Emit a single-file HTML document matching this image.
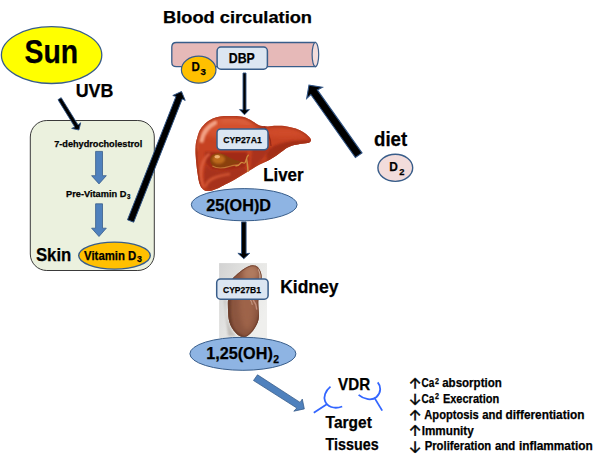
<!DOCTYPE html>
<html lang="en">
<head>
<meta charset="utf-8">
<title>Vitamin D metabolism</title>
<style>
html,body{margin:0;padding:0;background:#fff;}
body{width:610px;height:467px;overflow:hidden;}
svg{display:block;}
text{font-family:"Liberation Sans",sans-serif;font-weight:bold;fill:#000;stroke:#000;stroke-width:0.25px;}
.ar{font-family:"DejaVu Sans Light","DejaVu Sans",sans-serif;font-weight:200;font-size:24.7px;stroke-width:0.5px;}
</style>
</head>
<body>
<svg width="610" height="467" viewBox="0 0 610 467">
<defs>
  <radialGradient id="liverG" cx="0.38" cy="0.35" r="0.75">
    <stop offset="0" stop-color="#d9502f"/>
    <stop offset="0.55" stop-color="#c43a22"/>
    <stop offset="1" stop-color="#9c2a18"/>
  </radialGradient>
  <linearGradient id="kidBg" x1="0" y1="0" x2="1" y2="0.6">
    <stop offset="0" stop-color="#d2d2d2"/>
    <stop offset="0.5" stop-color="#e4e4e2"/>
    <stop offset="1" stop-color="#efefed"/>
  </linearGradient>
  <radialGradient id="kidG" cx="0.55" cy="0.35" r="0.8">
    <stop offset="0" stop-color="#a36a4e"/>
    <stop offset="0.6" stop-color="#8a5540"/>
    <stop offset="1" stop-color="#6e4232"/>
  </radialGradient>
  <filter id="b1" x="-20%" y="-20%" width="140%" height="140%"><feGaussianBlur stdDeviation="1.2"/></filter>
  <filter id="b2" x="-20%" y="-20%" width="140%" height="140%"><feGaussianBlur stdDeviation="2.5"/></filter>
  <filter id="b05" x="-20%" y="-20%" width="140%" height="140%"><feGaussianBlur stdDeviation="0.6"/></filter>
</defs>
<rect width="610" height="467" fill="#fff"/>

<!-- Title -->
<text x="163" y="23" font-size="16.5" textLength="149" stroke="none" lengthAdjust="spacingAndGlyphs">Blood circulation</text>

<!-- Sun -->
<ellipse cx="51.6" cy="55.1" rx="50.2" ry="28.4" fill="#ffff00" stroke="#385d8a" stroke-width="1.3"/>
<text x="24.6" y="63.2" font-size="32.5" textLength="53.6" stroke-width="0.8" lengthAdjust="spacingAndGlyphs">Sun</text>
<text x="75.7" y="96.9" font-size="18.2" textLength="37.6" stroke-width="0.4" lengthAdjust="spacingAndGlyphs">UVB</text>

<!-- Skin box -->
<rect x="30.3" y="120.5" width="124" height="150" rx="16.5" ry="16.5" fill="#ebf1de" stroke="#3a3a3a" stroke-width="1"/>

<!-- UVB arrow -->
<path d="M58.0 99.7 L74.8 127.0 L71.7 128.4 L78.9 130.0 L80.7 122.8 L78.1 125.0 L61.2 97.7 Z" fill="#000" stroke="#2f5384" stroke-width="0.9" stroke-linejoin="miter"/>

<text x="54.2" y="146.8" font-size="9.7" textLength="88" lengthAdjust="spacingAndGlyphs">7-dehydrocholestrol</text>
<path d="M95.6 151.4 H102.5 V175.7 H106.3 L99 183.9 L91.6 175.7 H95.6 Z" fill="#4f81bd" stroke="#385d8a" stroke-width="0.8"/>
<text x="66" y="196.9" font-size="9.7" textLength="60.4" lengthAdjust="spacingAndGlyphs">Pre-Vitamin D</text>
<text x="127" y="199" font-size="6.4" textLength="3.4" lengthAdjust="spacingAndGlyphs">3</text>
<path d="M95.6 203.8 H102.5 V228.2 H106.3 L99 236.5 L91.6 228.2 H95.6 Z" fill="#4f81bd" stroke="#385d8a" stroke-width="0.8"/>

<text x="35.9" y="260.7" font-size="18.9" textLength="35.4" stroke-width="0.4" lengthAdjust="spacingAndGlyphs">Skin</text>
<ellipse cx="114.5" cy="255.6" rx="35.8" ry="13.5" fill="#ffc000" stroke="#385d8a" stroke-width="1.4"/>
<text x="84.1" y="259.5" font-size="12.4" textLength="52.2" lengthAdjust="spacingAndGlyphs">Vitamin D</text>
<text x="136.9" y="262.3" font-size="9" textLength="4.9" lengthAdjust="spacingAndGlyphs">3</text>

<!-- Big arrow skin -> blood -->
<path d="M133.7 222.2 L182.2 98.9 L185.2 100.4 L181.5 91.5 L172.8 95.5 L176.0 96.4 L127.5 219.8 Z" fill="#000" stroke="#2f5384" stroke-width="1.0" stroke-linejoin="miter"/>

<!-- Vessel -->
<path d="M176.3 42.5 H315.4 V66.7 H176.3 Q171.8 66.7 171.8 62.2 V47 Q171.8 42.5 176.3 42.5 Z" fill="#e6b9b8" stroke="#385d8a" stroke-width="1.3"/>
<ellipse cx="315.4" cy="54.6" rx="3.3" ry="12.1" fill="#f2dcdb" stroke="#385d8a" stroke-width="1.2"/>

<!-- D3 -->
<ellipse cx="198.7" cy="69.7" rx="17.3" ry="13.5" fill="#ffc000" stroke="#385d8a" stroke-width="1.2"/>
<text x="191.6" y="71" font-size="13.3" textLength="8.3" lengthAdjust="spacingAndGlyphs">D</text>
<text x="200.4" y="75" font-size="9.6" textLength="5.4" lengthAdjust="spacingAndGlyphs">3</text>

<!-- DBP -->
<rect x="217.1" y="47.1" width="50.3" height="22.1" rx="3.8" fill="#dce6f2" stroke="#385d8a" stroke-width="1.5"/>
<text x="228.8" y="63.4" font-size="14.2" textLength="26" lengthAdjust="spacingAndGlyphs">DBP</text>

<!-- arrow DBP -> liver -->
<path d="M243.0 73.0 L243.0 109.9 L239.5 109.6 L244.5 114.8 L249.5 109.6 L246.0 109.9 L246.0 73.0 Z" fill="#000" stroke="#2f5384" stroke-width="0.9" stroke-linejoin="miter"/>

<!-- diet arrow -->
<path d="M362.0 152.9 L317.3 89.9 L322.3 87.3 L309.0 85.1 L306.7 98.4 L310.8 94.5 L355.4 157.5 Z" fill="#000" stroke="#2f5384" stroke-width="1.1" stroke-linejoin="miter"/>
<text x="374" y="145.5" font-size="19.5" textLength="33.2" stroke-width="0.4" lengthAdjust="spacingAndGlyphs">diet</text>
<ellipse cx="395.3" cy="167.8" rx="17.4" ry="13.6" fill="#f2dcdb" stroke="#385d8a" stroke-width="1.4"/>
<text x="389.2" y="171.2" font-size="13.3" textLength="8.6" lengthAdjust="spacingAndGlyphs">D</text>
<text x="399.2" y="175.2" font-size="9.6" textLength="5.2" lengthAdjust="spacingAndGlyphs">2</text>

<!-- Liver -->
<g id="liver">
  <clipPath id="liverClip"><path id="liverP" d="M199.7 130.6 C200.8 128.5 202.0 126.9 203.7 125.2 C205.3 123.5 207.5 121.6 209.6 120.3 C211.7 119.0 214.1 118.0 216.5 117.3 C218.9 116.6 221.4 116.3 224.3 116.1 C227.2 115.9 231.1 115.9 234.2 116.0 C237.3 116.1 240.0 116.2 242.7 116.8 C245.3 117.4 247.9 118.7 250.1 119.8 C252.3 120.9 254.3 122.5 256.0 123.5 C257.7 124.5 258.4 125.3 260.4 125.8 C262.4 126.3 265.1 126.4 267.8 126.4 C270.5 126.4 273.4 125.8 276.6 125.8 C279.8 125.8 283.8 125.9 287.0 126.4 C290.2 126.9 292.9 127.5 295.8 128.6 C298.7 129.7 302.2 131.5 304.6 133.1 C307.0 134.7 309.3 136.8 310.3 138.2 C311.3 139.5 311.1 140.4 310.6 141.2 C310.2 142.0 309.6 142.6 307.6 143.1 C305.6 143.6 301.1 143.8 298.7 144.2 C296.3 144.5 295.2 144.6 293.2 145.2 C291.2 145.8 288.6 146.8 286.6 147.9 C284.6 149.0 283.1 150.5 281.4 151.8 C279.6 153.1 278.1 154.4 276.1 155.7 C274.1 157.0 271.8 158.5 269.6 159.7 C267.4 160.9 265.2 161.9 263.0 163.0 C260.8 164.1 258.5 165.1 256.5 166.2 C254.5 167.3 253.2 168.3 251.2 169.5 C249.2 170.7 246.9 172.1 244.7 173.4 C242.5 174.7 240.3 176.1 238.1 177.4 C235.9 178.7 233.8 180.1 231.6 181.3 C229.4 182.5 227.2 183.4 225.0 184.6 C222.8 185.8 220.8 187.1 218.2 188.2 C215.6 189.3 211.7 190.7 209.3 191.0 C206.9 191.3 205.4 191.0 203.8 189.9 C202.2 188.8 200.9 187.2 199.8 184.3 C198.7 181.4 198.1 176.8 197.4 172.2 C196.7 167.6 196.0 160.7 195.7 156.7 C195.4 152.7 195.4 150.4 195.5 148.0 C195.6 145.6 195.7 144.2 196.0 142.5 C196.3 140.8 196.7 139.5 197.3 137.5 C197.9 135.5 198.6 132.7 199.7 130.6 Z"/></clipPath>
  <g clip-path="url(#liverClip)">
    <rect x="190" y="112" width="125" height="84" fill="#c64222"/>
    <!-- lighter upper body -->
    <ellipse cx="226" cy="127" rx="30" ry="11" fill="#d4512d" filter="url(#b2)"/>
    <ellipse cx="285" cy="132.5" rx="22" ry="4.5" fill="#d04c2a" filter="url(#b2)"/>
    <!-- right lobe underside darker -->
    <path d="M266 152 C276 141.5 292 140.5 312 140.5 L312 150 L268 168 Z" fill="#a22d18" filter="url(#b1)"/>
    <path d="M262 123 C266 132 270 140 268 152 C262 160 256 166 250 171 L252 150 Z" fill="#aa331b" filter="url(#b1)"/>
    <path d="M263 124.5 C268 131 270.5 138 271 146" fill="none" stroke="#9a2916" stroke-width="1.3" filter="url(#b05)"/>
    <!-- fossa: dark area around the gallbladder -->
    <path d="M205 152 L247 152 L249 160 L244 168.5 L228 171.5 L212 170.5 L205.5 163 Z" fill="#a12b17" filter="url(#b1)"/>
    <!-- lower-left dark interior -->
    <path d="M206 164 C203.5 170 203 180 205.5 186.5 C206.5 189 208 190.5 210 190.5 L220 188 C228 184 238 178 247 171 L244 167 C232 171 216 172 209 168 Z" fill="#a7311a" filter="url(#b1)"/>
    <!-- lighter ridges in the lower left -->
    <path d="M205.5 187 C207 179.5 215 176 230 174" fill="none" stroke="#d25533" stroke-width="2.4" filter="url(#b1)"/>
    <path d="M209.5 153.5 C204 158 201 165 200.6 173 C200.4 179 201.4 184 203.4 188" fill="none" stroke="#dc6040" stroke-width="2.6" filter="url(#b1)"/>
    <path d="M196.6 148 C196.8 163 197.6 178 201.5 189" fill="none" stroke="#b5381c" stroke-width="1.6" filter="url(#b05)"/>
    <!-- highlight streak top-left -->
    <path d="M201.6 140.6 C203 132.6 207.6 126.6 215 122.8" fill="none" stroke="#f2a285" stroke-width="4.6" stroke-linecap="round" filter="url(#b1)"/>
    <path d="M222 120.6 C232 119 242 120 250 124" fill="none" stroke="#df6c48" stroke-width="3" stroke-linecap="round" filter="url(#b2)"/>
    <path d="M197.4 150 C196.8 143 197.8 137 200 132" fill="none" stroke="#d96a48" stroke-width="1.2" stroke-linecap="round" filter="url(#b1)"/>
    <!-- gallbladder -->
    <path d="M210 160.6 C209.6 156 213.6 153.2 218.6 153.3 C223.4 153.4 226.4 155.8 230 157.8 C233.4 159.6 236.6 160.6 239.6 161 L239.8 163.2 C236 163.6 232 164.8 228.4 166 C224.2 167.4 219.6 168 216 167.2 C212.6 166.4 210.3 164 210 160.6 Z" fill="#8a3f10" filter="url(#b05)"/>
    <ellipse cx="218.6" cy="159.2" rx="6.4" ry="4.6" fill="#bd6a1c" filter="url(#b1)"/>
    <ellipse cx="217.2" cy="156.8" rx="2.8" ry="1.8" fill="#eeb070" filter="url(#b05)"/>
    <path d="M212.4 166 C217 168.8 224 168.2 230 166.2 C233 165.2 236 164.8 238.6 165.4" fill="none" stroke="#bf7a34" stroke-width="1.1" filter="url(#b05)"/>
    <!-- ducts -->
    <path d="M235.4 165.6 C238 166.4 239.6 164.4 241 162.8 C242.4 161.4 243.6 164.2 245 162.6 C246.6 160.6 246 157 248.6 154.8" fill="none" stroke="#d08c3c" stroke-width="1.3" filter="url(#b05)"/>
    <!-- rim darkening -->
    <use href="#liverP" fill="none" stroke="#a6351b" stroke-width="2" filter="url(#b1)"/>
  </g>
  <path d="M246.6 158.6 C247.4 164 248 168 248 172" fill="none" stroke="#cf8c42" stroke-width="1.5" filter="url(#b05)"/>
  <path d="M248 171 L248 182" fill="none" stroke="#e6bc86" stroke-width="1.5" filter="url(#b05)"/>
</g>

<!-- CYP27A1 -->
<rect x="217" y="129" width="51" height="20.8" rx="3.8" fill="#dce6f2" stroke="#385d8a" stroke-width="1.5"/>
<text x="223.3" y="143.4" font-size="9.9" textLength="38.4" lengthAdjust="spacingAndGlyphs">CYP27A1</text>

<text x="263.2" y="181" font-size="18.3" textLength="40.4" stroke-width="0.4" lengthAdjust="spacingAndGlyphs">Liver</text>

<ellipse cx="244.2" cy="204.7" rx="52.9" ry="16.1" fill="#8eb4e3" stroke="#385d8a" stroke-width="1"/>
<text x="206.2" y="210.7" font-size="16.5" textLength="64.8" lengthAdjust="spacingAndGlyphs">25(OH)D</text>

<!-- arrow to kidney -->
<path d="M241.5 221.9 L241.5 253.6 L237.9 253.3 L243.8 258.7 L249.7 253.3 L246.1 253.6 L246.1 221.9 Z" fill="#000" stroke="#2f5384" stroke-width="0.9" stroke-linejoin="miter"/>

<!-- Kidney -->
<g id="kidney">
  <rect x="219.1" y="263.1" width="47.9" height="75" fill="url(#kidBg)"/>
  <clipPath id="kidClip"><path id="kidP" d="M252.5 265.2 C255 265.2 257 266.2 258.4 267.8 C260 269.6 261 272 261.5 275 C261.9 278 261.5 281 261 284 C260 291 258.6 296 258.3 301.6 C258.2 306 259 311 258.9 316.4 C258.7 320.5 257.3 324 255.2 327.2 C253.8 329.6 252.2 331.8 250.4 333.6 C248.5 335.5 246.3 337 243.9 337 C241 337 238.4 335.6 236.4 333.6 C234.4 331.7 232.8 329.5 231.6 327.2 C229.8 323.8 228.7 320.2 228.4 316.4 C228 311.4 227.8 306.4 227.9 301.4 C228.3 296 229.3 291 230.3 286 C230.9 283.3 231.6 280.8 232.7 278.4 C233.4 277.3 234.3 276.5 235.4 275.7 C236.8 274.4 238.2 273.1 239.7 271.9 C241.8 270.3 243.9 268.9 246.1 267.6 C248.1 266.4 250.2 265.3 252.5 265.2 Z"/></clipPath>
  <path d="M226 300 C225 312 227 326 236 336 L228 336 L224 300 Z" fill="#b9b5b0" filter="url(#b1)" opacity="0.8"/>
  <g clip-path="url(#kidClip)">
    <rect x="225" y="262" width="40" height="78" fill="#8b553f"/>
    <ellipse cx="247" cy="300" rx="8" ry="30" fill="#9e644a" filter="url(#b2)"/>
    <ellipse cx="251" cy="273" rx="8" ry="8" fill="#b07a5e" filter="url(#b2)"/>
    <path d="M233 278 C228.5 292 227.5 312 231 326 C233 331 238 336 244 338" fill="none" stroke="#6a3c2b" stroke-width="3.6" filter="url(#b1)"/>
    <path d="M244 338.5 C251 337 258 328 259.5 314" fill="none" stroke="#74432f" stroke-width="2.6" filter="url(#b1)"/>
    <path d="M258.6 269 C260 272 260.4 276 260 279" fill="none" stroke="#dcc0b0" stroke-width="1.3" stroke-linecap="round" filter="url(#b05)" opacity="0.85"/>
    <path d="M253.5 300.5 C255.5 303 256.5 306 256.7 309" fill="none" stroke="#cf9a88" stroke-width="1.5" stroke-linecap="round" filter="url(#b05)" opacity="0.8"/>
    <path d="M250.6 300 C251.5 301.5 252 303 252.2 304.5" fill="none" stroke="#d8b8a8" stroke-width="1" stroke-linecap="round" filter="url(#b05)" opacity="0.7"/>
    <use href="#kidP" fill="none" stroke="#6e3f2d" stroke-width="1.6" filter="url(#b05)" opacity="0.8"/>
  </g>
</g>

<!-- CYP27B1 -->
<rect x="216.7" y="279" width="51.4" height="20.2" rx="3.8" fill="#dce6f2" stroke="#385d8a" stroke-width="1.5"/>
<text x="223" y="292.5" font-size="9.9" textLength="38" lengthAdjust="spacingAndGlyphs">CYP27B1</text>

<text x="280.2" y="292.6" font-size="18.3" textLength="58.3" stroke-width="0.4" lengthAdjust="spacingAndGlyphs">Kidney</text>

<ellipse cx="242.9" cy="353.8" rx="53" ry="16.5" fill="#8eb4e3" stroke="#385d8a" stroke-width="1"/>
<text x="206.2" y="359.2" font-size="16.5" textLength="66.6" lengthAdjust="spacingAndGlyphs">1,25(OH)</text>
<text x="273.3" y="362.5" font-size="11" textLength="5.8" lengthAdjust="spacingAndGlyphs">2</text>

<!-- blue diagonal arrow -->
<path d="M257.5 374.8 L300.1 402.4 L302.3 399.1 L304.3 408.9 L293.8 411.2 L296.8 408 L253.5 380.5 Z" fill="#4f81bd" stroke="#385d8a" stroke-width="0.8"/>

<!-- VDR -->
<text x="338.1" y="390.2" font-size="16.6" textLength="32" lengthAdjust="spacingAndGlyphs">VDR</text>
<path d="M330.5 386.6 C325 391 323.5 397 325 401 C327 406.6 334 409.6 342.2 406.5" fill="none" stroke="#3366ff" stroke-width="1.8"/>
<line x1="326.8" y1="404.2" x2="313.8" y2="412.8" stroke="#3366ff" stroke-width="1.8"/>
<path d="M377.7 382.3 C381 386 381.5 392 376.5 397 C372 401 364 399.5 358.6 394.9" fill="none" stroke="#3366ff" stroke-width="1.8"/>
<line x1="374.8" y1="398.4" x2="382.2" y2="410.6" stroke="#3366ff" stroke-width="1.8"/>

<text x="325.6" y="428.2" font-size="16.6" textLength="46.2" lengthAdjust="spacingAndGlyphs">Target</text>
<text x="325.6" y="450.2" font-size="16.6" textLength="53" lengthAdjust="spacingAndGlyphs">Tissues</text>

<!-- effects list -->
<g font-size="12.3">
<clipPath id="ac0"><rect x="404" y="377.1" width="22" height="11.6"/></clipPath><text class="ar" clip-path="url(#ac0)" x="404.7" y="396.1">↑</text>
<text x="421.5" y="387.3" textLength="12.8" lengthAdjust="spacingAndGlyphs">Ca</text>
<text x="435.1" y="383.7" font-size="8.3" textLength="4" lengthAdjust="spacingAndGlyphs">2</text>
<text x="442.2" y="387.3" textLength="59.6" lengthAdjust="spacingAndGlyphs">absorption</text>
<clipPath id="ac1"><rect x="404" y="393.8" width="22" height="12.1"/></clipPath><text class="ar" clip-path="url(#ac1)" x="404.7" y="405.1">↓</text>
<text x="421.5" y="402.9" textLength="12.8" lengthAdjust="spacingAndGlyphs">Ca</text>
<text x="435.1" y="399.3" font-size="8.3" textLength="4" lengthAdjust="spacingAndGlyphs">2</text>
<text x="442.9" y="402.9" textLength="56.3" lengthAdjust="spacingAndGlyphs">Execration</text>
<clipPath id="ac2"><rect x="404" y="408.8" width="22" height="11.6"/></clipPath><text class="ar" clip-path="url(#ac2)" x="404.7" y="427.8">↑</text>
<text x="424.3" y="419.0" textLength="54.5" lengthAdjust="spacingAndGlyphs">Apoptosis</text>
<text x="482.3" y="419.0" textLength="20.1" lengthAdjust="spacingAndGlyphs">and</text>
<text x="505.5" y="419.0" textLength="78.9" lengthAdjust="spacingAndGlyphs">differentiation</text>
<clipPath id="ac3"><rect x="404" y="424.4" width="22" height="11.6"/></clipPath><text class="ar" clip-path="url(#ac3)" x="404.7" y="443.4">↑</text>
<text x="421.7" y="434.6" textLength="52.1" lengthAdjust="spacingAndGlyphs">Immunity</text>
<clipPath id="ac4"><rect x="404" y="441.2" width="22" height="12.1"/></clipPath><text class="ar" clip-path="url(#ac4)" x="404.7" y="452.5">↓</text>
<text x="424.7" y="450.3" textLength="66.5" lengthAdjust="spacingAndGlyphs">Proliferation</text>
<text x="494.9" y="450.3" textLength="20.3" lengthAdjust="spacingAndGlyphs">and</text>
<text x="518.9" y="450.3" textLength="73.8" lengthAdjust="spacingAndGlyphs">inflammation</text>
</g>
</svg>
</body>
</html>
